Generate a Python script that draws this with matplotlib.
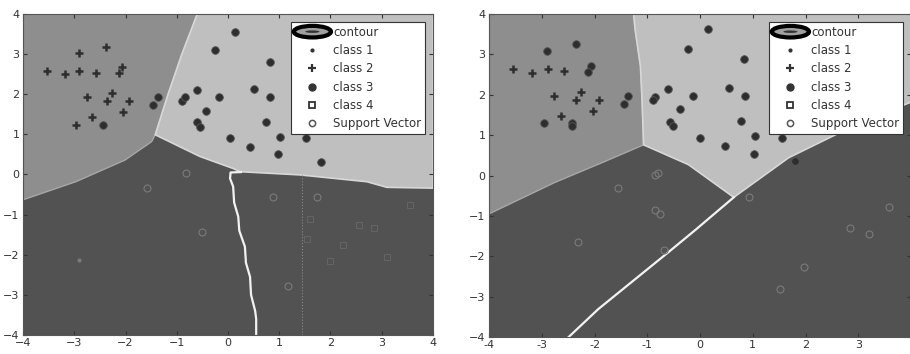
import numpy as np
import matplotlib.pyplot as plt
from matplotlib.patches import Ellipse, Polygon
from matplotlib.legend_handler import HandlerPatch
from matplotlib.lines import Line2D

# ---- data ----
# left panel
L_class2_x = [-3.54, -3.19, -2.91, -2.91, -2.58, -2.38, -2.07, -2.13, -2.76, -2.27, -2.37, -1.94, -2.04, -2.65, -2.97]
L_class2_y = [2.59, 2.50, 3.02, 2.59, 2.54, 3.17, 2.69, 2.52, 1.94, 2.02, 1.84, 1.84, 1.55, 1.44, 1.23]
L_class3_x = [-2.43, -1.46, -1.36, 0.14, -0.25, 0.81, -0.61, -0.90, -0.84, -0.18, 0.51, 0.81, -0.42,
              -0.61, -0.55, 0.75, 0.04, 0.42, 1.01, 1.53, 0.98, 1.81]
L_class3_y = [1.23, 1.72, 1.94, 3.56, 3.10, 2.81, 2.11, 1.82, 1.94, 1.94, 2.12, 1.92, 1.59,
              1.30, 1.19, 1.32, 0.90, 0.69, 0.94, 0.90, 0.51, 0.30]
L_sv_x = [-0.82, -1.59, -0.51, 0.88, 1.73, 1.18]
L_sv_y = [0.03, -0.33, -1.44, -0.57, -0.57, -2.79]
L_class4_x = [3.55, 2.55, 2.85, 3.10, 2.00, 1.55, 2.25, 1.60]
L_class4_y = [-0.76, -1.25, -1.33, -2.05, -2.15, -1.60, -1.75, -1.10]
L_class1_x = [-2.91]
L_class1_y = [-2.13]

L_medium = [(-4, 4), (-0.6, 4), (-0.9, 3), (-1.17, 2), (-1.42, 0.99), (-1.49, 0.82),
            (-2.01, 0.36), (-2.97, -0.18), (-4, -0.63)]
L_light = [(-0.6, 4), (4, 4), (4, -0.34), (3.1, -0.32), (2.71, -0.18), (1.4, -0.01),
           (0.23, 0.07), (0.10, 0.15), (-0.55, 0.45), (-1.42, 0.99), (-1.17, 2), (-0.9, 3)]
L_split_x = [0.25, 0.05, 0.04, 0.10, 0.12, 0.20, 0.22, 0.33, 0.35, 0.43, 0.45, 0.53, 0.55, 0.55]
L_split_y = [0.06, 0.05, -0.10, -0.30, -0.70, -1.05, -1.40, -1.80, -2.20, -2.55, -3.00, -3.40, -3.60, -4.0]

# right panel
R_class2_x = [-3.54, -3.19, -2.89, -2.58, -2.25, -2.77, -2.36, -1.91, -2.03, -2.63]
R_class2_y = [2.63, 2.55, 2.63, 2.58, 2.06, 1.98, 1.88, 1.88, 1.59, 1.48]
R_class3_x = [-2.91, -2.36, -2.06, -2.12, -2.95, -2.43, -2.43, -1.36, -1.44, -0.85, -0.89, -0.60,
              -0.22, 0.54, 0.16, 0.83, -0.14, 0.85, -0.38, -0.57, -0.52, 0.78, 0.0, 0.47,
              1.05, 1.55, 1.02, 1.81]
R_class3_y = [3.08, 3.26, 2.71, 2.57, 1.29, 1.29, 1.22, 1.98, 1.78, 1.94, 1.86, 2.14,
              3.14, 2.16, 3.63, 2.88, 1.98, 1.97, 1.64, 1.33, 1.23, 1.35, 0.92, 0.72,
              0.98, 0.94, 0.53, 0.37]
R_sv_x = [-1.55, -0.85, -0.79, -0.86, -0.76, -2.32, -0.69, 0.92, 3.58, 2.85, 3.20, 1.98, 1.52]
R_sv_y = [-0.30, 0.01, 0.07, -0.85, -0.96, -1.64, -1.84, -0.54, -0.78, -1.31, -1.44, -2.27, -2.82]

R_medium = [(-4, 4), (-1.26, 4), (-1.23, 3.61), (-1.13, 2.71), (-1.10, 1.90), (-1.07, 0.76),
            (-1.80, 0.35), (-2.75, -0.17), (-4, -0.95)]
R_light = [(-1.26, 4), (4, 4), (4, 1.82), (2.82, 1.17), (1.68, 0.44), (0.64, -0.54),
           (-0.22, 0.27), (-1.07, 0.76), (-1.10, 1.90), (-1.13, 2.71), (-1.23, 3.61)]
R_split_x = [0.64, -0.09, -0.60, -1.93, -2.49]
R_split_y = [-0.54, -1.35, -1.90, -3.31, -4.0]

ticks = [-4, -3, -2, -1, 0, 1, 2, 3, 4]
R_xticklabels = ['-4', '-3', '-2', '-1', '0', '1', '2', '3', '']  # "4" falls off the page

DARK = '#525252'
MEDIUM = '#8e8e8e'
LIGHT = '#bfbfbf'


class HandlerContour(HandlerPatch):
    def create_artists(self, legend, orig_handle, xdescent, ydescent, width, height, fontsize, trans):
        cx = -xdescent + width / 2
        cy = -ydescent + height / 2
        outer = Ellipse((cx, cy), width * 1.05, height * 1.4, facecolor='#a0a0a0',
                        edgecolor='black', linewidth=3.0, transform=trans)
        inner = Ellipse((cx, cy), width * 0.4, height * 0.3, facecolor='#333333',
                        edgecolor='none', transform=trans)
        return [outer, inner]


def draw_panel(ax, medium, light, split_x, split_y, c2x, c2y, c3x, c3y, svx, svy,
               c4x=None, c4y=None, c1x=None, c1y=None):
    ax.set_facecolor(DARK)
    ax.add_patch(Polygon(medium, closed=True, facecolor=MEDIUM, edgecolor='#a8a8a8', linewidth=1.0, zorder=1))
    ax.add_patch(Polygon(light, closed=True, facecolor=LIGHT, edgecolor='#d8d8d8', linewidth=1.2, zorder=1.5))
    ax.plot(split_x, split_y, color='#f2f2f2', linewidth=1.6, zorder=2)

    ax.plot(c2x, c2y, '+', color='#2e2e2e', markersize=6, markeredgewidth=1.8, zorder=3)
    ax.plot(c3x, c3y, 'o', color='#2e2e2e', markersize=5.5, markeredgecolor='#555555',
            markeredgewidth=0.6, zorder=3)
    ax.plot(svx, svy, 'o', markerfacecolor='none', markeredgecolor='#7a7a7a',
            markersize=5, markeredgewidth=0.8, zorder=3)
    if c4x is not None:
        ax.plot(c4x, c4y, 's', markerfacecolor='none', markeredgecolor='#646464',
                markersize=4.5, markeredgewidth=0.8, zorder=3)
    if c1x is not None:
        ax.plot(c1x, c1y, '.', color='#7a7a7a', markersize=4, zorder=3)

    ax.set_xlim(-4, 4)
    ax.set_ylim(-4, 4)
    ax.set_xticks(ticks)
    ax.set_yticks(ticks)
    ax.tick_params(direction='in', top=True, right=True, labelsize=8, length=3,
                   colors='#333333', pad=2.5)
    for s in ax.spines.values():
        s.set_color('#555555')
        s.set_linewidth(0.8)

    handles = [
        Ellipse((0, 0), 1, 1),
        Line2D([], [], linestyle='none', marker='.', color='#333333', markersize=4),
        Line2D([], [], linestyle='none', marker='+', color='#333333', markersize=6, markeredgewidth=1.6),
        Line2D([], [], linestyle='none', marker='o', color='#333333', markersize=5),
        Line2D([], [], linestyle='none', marker='s', markerfacecolor='none',
               markeredgecolor='#333333', markersize=5, markeredgewidth=1.3),
        Line2D([], [], linestyle='none', marker='o', markerfacecolor='none',
               markeredgecolor='#555555', markersize=4.5, markeredgewidth=1.1),
    ]
    labels = ['contour', 'class 1', 'class 2', 'class 3', 'class 4', 'Support Vector']
    leg = ax.legend(handles, labels, loc='upper right', fontsize=8.5, frameon=True, fancybox=False,
                    handler_map={Ellipse: HandlerContour()}, borderpad=0.3, labelspacing=0.45,
                    handlelength=3.0, handletextpad=0.25, borderaxespad=0.7)
    leg.get_frame().set_edgecolor('#333333')
    leg.get_frame().set_linewidth(0.8)
    leg.get_frame().set_alpha(1)
    for t in leg.get_texts():
        t.set_color('#333333')


fig = plt.figure(figsize=(9.1, 3.54), dpi=100)
ax1 = fig.add_axes([0.0253, 0.0537, 0.4505, 0.9068])
ax2 = fig.add_axes([0.5374, 0.048, 0.4637, 0.9124])

draw_panel(ax1, L_medium, L_light, L_split_x, L_split_y, L_class2_x, L_class2_y,
           L_class3_x, L_class3_y, L_sv_x, L_sv_y, L_class4_x, L_class4_y, L_class1_x, L_class1_y)
# faint dotted line in the left panel
ax1.axvline(1.45, ymin=0, ymax=0.5, color='#8a8a8a', linestyle=':', linewidth=0.8, zorder=2)

draw_panel(ax2, R_medium, R_light, R_split_x, R_split_y, R_class2_x, R_class2_y,
           R_class3_x, R_class3_y, R_sv_x, R_sv_y)
ax2.set_xticklabels(R_xticklabels)

fig.savefig('out.png', dpi=100)
